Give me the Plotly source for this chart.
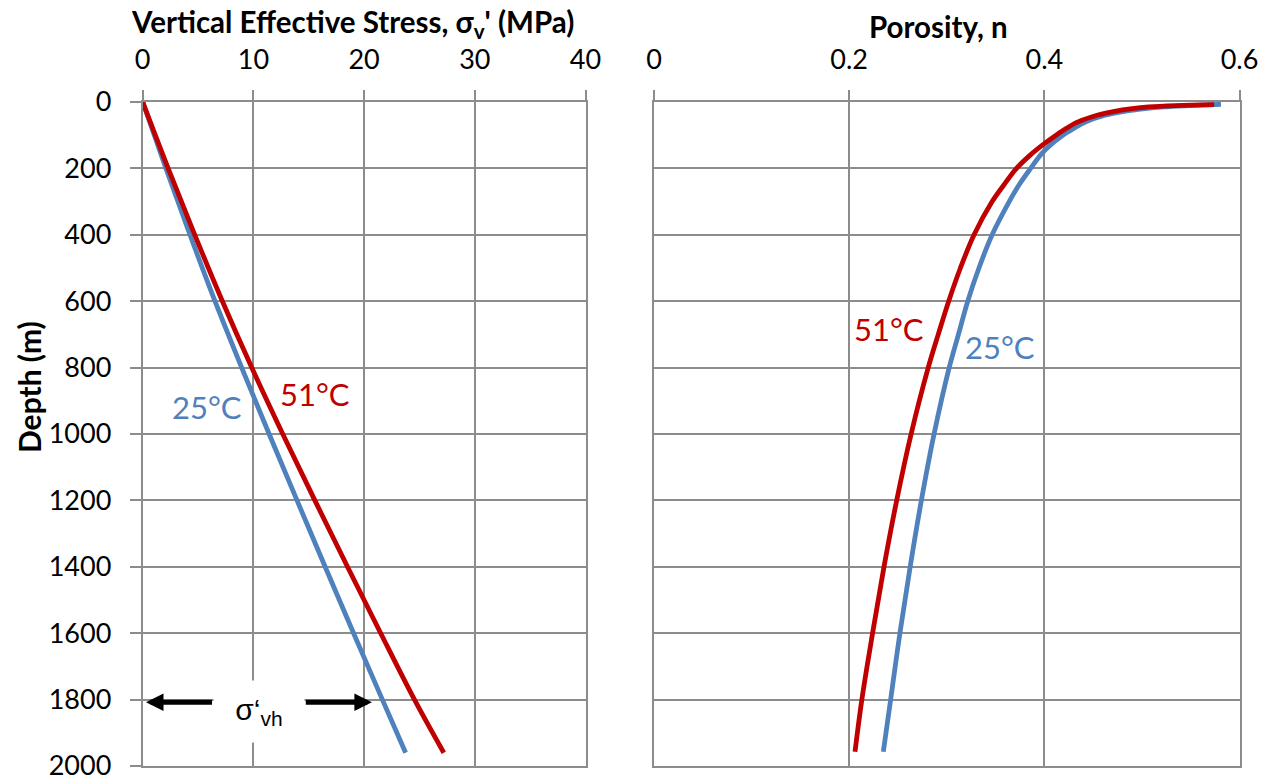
import plotly.graph_objects as go

# ---------------- data ----------------
depth_stress = [0, 200, 400, 600, 800, 1000, 1200, 1400, 1600, 1800, 1960]
stress_25C = [0, 2.10, 4.27, 6.53, 8.94, 11.42, 13.94, 16.48, 19.05, 21.65, 23.75]
stress_51C = [0, 2.30, 4.70, 7.20, 9.85, 12.65, 15.55, 18.50, 21.50, 24.55, 27.20]

depth_por_25C = [7, 11, 15, 20, 28, 40, 60, 80, 100, 130, 160, 200, 250, 300, 400, 500, 600, 700, 800,
                 1000, 1200, 1400, 1600, 1800, 1957]
por_25C = [0.581, 0.548, 0.522, 0.503, 0.482, 0.462, 0.4425, 0.430, 0.419, 0.406, 0.396, 0.386, 0.374,
           0.364, 0.3465, 0.333, 0.3215, 0.312, 0.3025, 0.287, 0.274, 0.2625, 0.252, 0.2425, 0.235]
depth_por_51C = [8, 11, 15, 20, 28, 40, 60, 80, 100, 130, 160, 200, 250, 300, 400, 500, 600, 700, 800,
                 1000, 1200, 1400, 1600, 1800, 1957]
por_51C = [0.574, 0.535, 0.507, 0.490, 0.472, 0.454, 0.4345, 0.4222, 0.412, 0.398, 0.3855, 0.3715, 0.3585,
           0.3465, 0.328, 0.314, 0.302, 0.2913, 0.281, 0.2635, 0.2487, 0.2357, 0.224, 0.213, 0.206]

stress_ticks = [0, 10, 20, 30, 40]
por_ticks = [0, 0.2, 0.4, 0.6]
por_tick_text = ["0", "0.2", "0.4", "0.6"]
depth_ticks = list(range(0, 2001, 200))

BLUE = "#4F81BD"
RED = "#C00000"
GRID = "#8c8c8c"
FONT = "Lato"

fig = go.Figure()
for xs, ys, col, xa, ya in [(stress_25C, depth_stress, BLUE, "x", "y"),
                            (stress_51C, depth_stress, RED, "x", "y"),
                            (por_25C, depth_por_25C, BLUE, "x2", "y2"),
                            (por_51C, depth_por_51C, RED, "x2", "y2")]:
    fig.add_trace(go.Scatter(x=xs, y=ys, mode="lines",
                             line=dict(color=col, width=4.8, shape="spline", smoothing=1.0),
                             xaxis=xa, yaxis=ya, showlegend=False, hoverinfo="skip"))

W, H = 1278, 782
ytop, ybot = 1 - 102 / H, 1 - 766 / H

common_x = dict(side="top", showgrid=True, gridcolor=GRID, gridwidth=2, showline=True, linecolor=GRID,
                linewidth=2, mirror=True, ticks="outside", ticklen=10, tickcolor=GRID, tickwidth=2,
                ticklabelstandoff=10, automargin=False,
                tickfont=dict(family=FONT, size=27, color="#000"), zeroline=False, fixedrange=True)

fig.update_layout(
    width=W, height=H, margin=dict(l=0, r=0, t=0, b=0),
    paper_bgcolor="white", plot_bgcolor="white",
    xaxis=dict(domain=[142.7 / W, 585.5 / W], range=[0, 40], tickvals=stress_ticks, anchor="y", **common_x),
    xaxis2=dict(domain=[654 / W, 1239.5 / W], range=[0, 0.6], tickvals=por_ticks, ticktext=por_tick_text,
                anchor="y2", **common_x),
    yaxis=dict(domain=[ybot, ytop], range=[2000, 0], tickvals=depth_ticks, showgrid=True, gridcolor=GRID,
               gridwidth=2, showline=True, linecolor=GRID, linewidth=2, mirror=True, ticks="outside",
               ticklen=11, tickcolor=GRID, tickwidth=2, ticklabelstandoff=13, automargin=False,
               tickfont=dict(family=FONT, size=27, color="#000"), zeroline=False, anchor="x"),
    yaxis2=dict(domain=[ybot, ytop], range=[2000, 0], tickvals=depth_ticks, showgrid=True, gridcolor=GRID,
                gridwidth=2, showline=True, linecolor=GRID, linewidth=2, mirror=True, ticks="",
                showticklabels=False, zeroline=False, anchor="x2", automargin=False),
)

ann = []
# titles
ann.append(dict(xref="paper", yref="paper", x=352 / W, y=1 - 24 / H,
                text="<b>Vertical Effective Stress, σ<sub>v</sub>' (MPa)</b>",
                showarrow=False, font=dict(family=FONT, size=29.5, color="#000"), xanchor="center", yanchor="middle"))
ann.append(dict(xref="paper", yref="paper", x=938 / W, y=1 - 26 / H, text="<b>Porosity, n</b>",
                showarrow=False, font=dict(family=FONT, size=29.5, color="#000"), xanchor="center", yanchor="middle"))
ann.append(dict(xref="paper", yref="paper", x=29 / W, y=1 - 387 / H, text="<b>Depth (m)</b>", textangle=-90,
                showarrow=False, font=dict(family=FONT, size=30, color="#000"), xanchor="center", yanchor="middle"))
# curve labels
ann.append(dict(xref="x", yref="y", x=5.8, y=919, text="25°C", showarrow=False,
                font=dict(family=FONT, size=31, color=BLUE)))
ann.append(dict(xref="x", yref="y", x=15.6, y=880, text="51°C", showarrow=False,
                font=dict(family=FONT, size=31, color=RED)))
ann.append(dict(xref="x2", yref="y2", x=0.241, y=684, text="51°C", showarrow=False,
                font=dict(family=FONT, size=31, color=RED)))
ann.append(dict(xref="x2", yref="y2", x=0.355, y=738, text="25°C", showarrow=False,
                font=dict(family=FONT, size=31, color=BLUE)))
# sigma'_vh arrows
ann.append(dict(xref="x", yref="y", x=0.3, y=1808, ax=6.4, ay=1808, axref="x", ayref="y", text="",
                showarrow=True, arrowhead=2, arrowsize=0.7, arrowwidth=5, arrowcolor="#000"))
ann.append(dict(xref="x", yref="y", x=20.7, y=1808, ax=14.6, ay=1808, axref="x", ayref="y", text="",
                showarrow=True, arrowhead=2, arrowsize=0.7, arrowwidth=5, arrowcolor="#000"))
ann.append(dict(xref="x", yref="y", x=10.5, y=1835, text="σ‘<sub>vh</sub>", showarrow=False,
                font=dict(family="Liberation Sans", size=30, color="#000"), bgcolor="white", width=88, height=59))

fig.update_layout(annotations=ann)
fig.write_html("out.html", config={"displayModeBar": False},
               post_script="document.body.style.margin='0px';document.body.style.overflow='hidden';")
